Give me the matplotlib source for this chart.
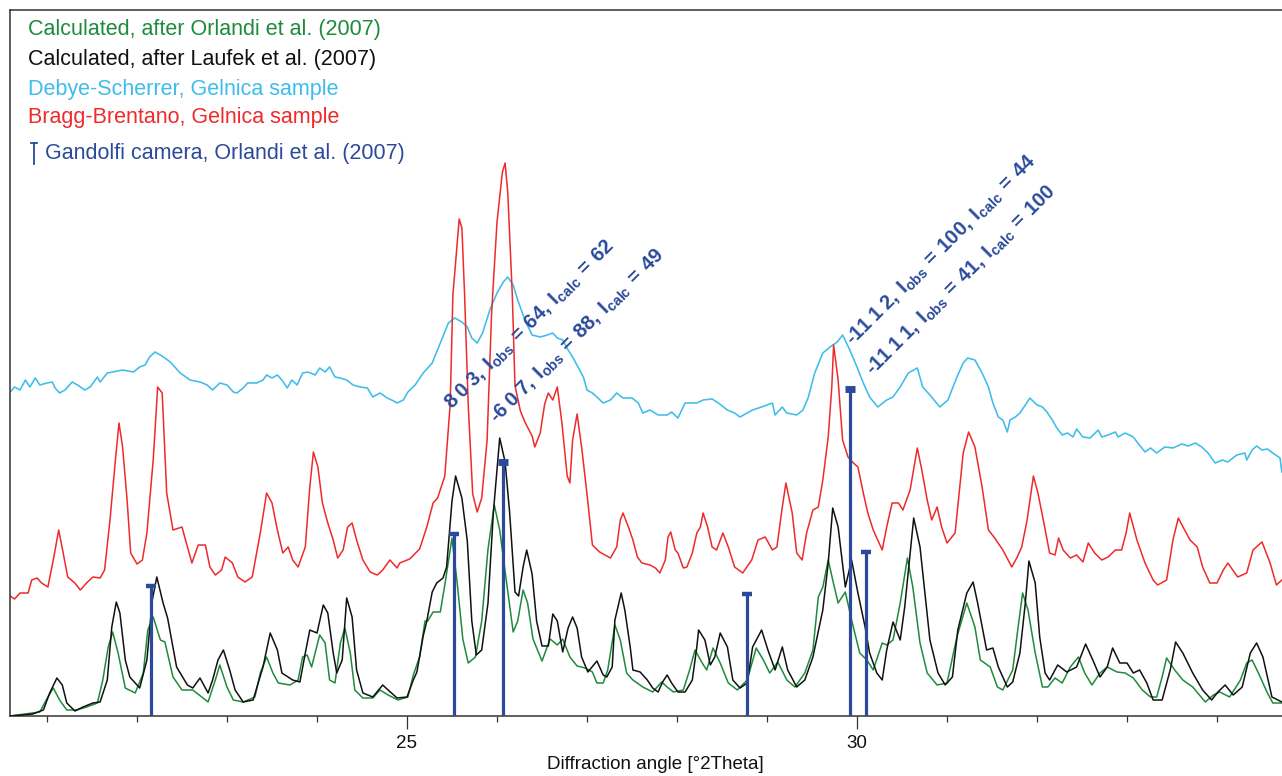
import matplotlib
matplotlib.use("Agg")
import matplotlib.pyplot as plt
from matplotlib.lines import Line2D

plt.rcParams['font.family'] = ['Liberation Sans', 'DejaVu Sans']
plt.rcParams['mathtext.fontset'] = 'custom'
plt.rcParams['mathtext.rm'] = 'Liberation Sans'
plt.rcParams['mathtext.bf'] = 'Liberation Sans:bold'
plt.rcParams['mathtext.it'] = 'Liberation Sans:italic'

# ---------------- data (2Theta in degrees, intensity in arbitrary units) ----------------
laufek_x = [20.59, 20.84, 20.96, 21.03, 21.11, 21.17, 21.22, 21.31, 21.40, 21.51, 21.59, 21.67, 21.72, 21.77, 21.81,
            21.87, 21.92, 22.03, 22.11, 22.17, 22.22, 22.29, 22.34, 22.44, 22.56, 22.62, 22.70, 22.79, 22.84, 22.90,
            22.96, 23.03, 23.09, 23.18, 23.29, 23.40, 23.48, 23.56, 23.61, 23.73, 23.81, 23.87, 23.92, 24.00, 24.07,
            24.12, 24.18, 24.22, 24.28, 24.33, 24.39, 24.44, 24.51, 24.62, 24.73, 24.79, 24.89, 25.00, 25.07, 25.11,
            25.18, 25.22, 25.28, 25.33, 25.40, 25.44, 25.50, 25.54, 25.61, 25.67, 25.72, 25.77, 25.83, 25.90, 25.96,
            26.03, 26.09, 26.14, 26.20, 26.24, 26.29, 26.33, 26.39, 26.44, 26.50, 26.57, 26.62, 26.67, 26.73, 26.79,
            26.84, 26.89, 26.94, 27.01, 27.11, 27.18, 27.22, 27.28, 27.31, 27.38, 27.42, 27.48, 27.51, 27.59, 27.67,
            27.73, 27.79, 27.84, 27.89, 27.94, 28.01, 28.09, 28.17, 28.22, 28.24, 28.31, 28.37, 28.42, 28.48, 28.56,
            28.62, 28.70, 28.78, 28.84, 28.94, 29.01, 29.09, 29.17, 29.23, 29.33, 29.42, 29.51, 29.62, 29.68, 29.73,
            29.79, 29.87, 29.94, 30.01, 30.09, 30.14, 30.22, 30.28, 30.33, 30.40, 30.48, 30.53, 30.59, 30.63, 30.70,
            30.81, 30.90, 30.98, 31.06, 31.12, 31.22, 31.29, 31.34, 31.44, 31.51, 31.57, 31.67, 31.73, 31.81, 31.87,
            31.91, 31.98, 32.03, 32.09, 32.14, 32.23, 32.33, 32.44, 32.54, 32.62, 32.70, 32.78, 32.84, 32.92, 33.00,
            33.07, 33.14, 33.22, 33.29, 33.39, 33.48, 33.54, 33.62, 33.73, 33.84, 33.94, 34.01, 34.09, 34.18, 34.28,
            34.37, 34.44, 34.51, 34.61, 34.72]
laufek_y = [0, 2, 6, 23, 38, 31, 13, 5, 9, 13, 14, 36, 89, 114, 103,
            56, 39, 28, 56, 116, 139, 113, 98, 49, 31, 28, 38, 23, 36, 56,
            66, 46, 26, 14, 16, 49, 83, 66, 43, 36, 34, 63, 86, 83, 111,
            103, 63, 43, 56, 118, 99, 46, 23, 19, 31, 26, 18, 19, 36, 44,
            80, 95, 124, 133, 138, 149, 215, 240, 218, 175, 95, 61, 66, 113, 204,
            278, 254, 204, 124, 120, 149, 166, 142, 95, 70, 70, 102, 95, 64, 88,
            99, 88, 59, 44, 55, 41, 39, 49, 96, 123, 106, 69, 46, 44, 36,
            28, 24, 34, 41, 33, 24, 24, 36, 69, 86, 76, 51, 59, 83, 69,
            36, 28, 33, 69, 86, 66, 46, 69, 46, 29, 36, 59, 106, 153, 208,
            189, 129, 156, 123, 89, 63, 43, 36, 66, 94, 76, 109, 163, 198, 169,
            76, 43, 31, 39, 86, 123, 134, 113, 66, 68, 49, 29, 34, 63, 113,
            155, 133, 79, 43, 36, 51, 44, 49, 72, 56, 39, 49, 68, 53, 53,
            43, 46, 33, 16, 16, 46, 74, 63, 43, 26, 16, 24, 31, 21, 29,
            63, 73, 59, 19, 14]

orlandi_x = [20.59, 20.92, 21.01, 21.07, 21.14, 21.22, 21.33, 21.44, 21.56, 21.62, 21.68, 21.73, 21.79, 21.87, 21.98,
             22.07, 22.12, 22.18, 22.26, 22.31, 22.40, 22.50, 22.62, 22.79, 22.87, 22.92, 23.00, 23.07, 23.18, 23.31,
             23.37, 23.44, 23.51, 23.57, 23.70, 23.79, 23.84, 23.89, 23.94, 24.03, 24.09, 24.14, 24.20, 24.26, 24.31,
             24.37, 24.42, 24.51, 24.62, 24.70, 24.79, 24.90, 25.01, 25.07, 25.14, 25.20, 25.23, 25.29, 25.37, 25.42,
             25.50, 25.56, 25.62, 25.68, 25.76, 25.83, 25.90, 25.97, 26.03, 26.11, 26.18, 26.23, 26.29, 26.34, 26.40,
             26.50, 26.59, 26.67, 26.73, 26.81, 26.89, 26.98, 27.06, 27.11, 27.18, 27.23, 27.31, 27.37, 27.44, 27.51,
             27.62, 27.73, 27.83, 27.89, 27.96, 28.07, 28.14, 28.20, 28.28, 28.33, 28.40, 28.48, 28.57, 28.67, 28.78,
             28.88, 28.96, 29.03, 29.12, 29.22, 29.31, 29.42, 29.51, 29.57, 29.62, 29.68, 29.73, 29.79, 29.87, 29.94,
             30.03, 30.11, 30.18, 30.28, 30.33, 30.40, 30.48, 30.56, 30.62, 30.70, 30.78, 30.89, 31.00, 31.11, 31.22,
             31.31, 31.37, 31.48, 31.56, 31.62, 31.73, 31.79, 31.84, 31.90, 31.98, 32.06, 32.12, 32.20, 32.28, 32.37,
             32.46, 32.53, 32.61, 32.70, 32.78, 32.89, 32.98, 33.07, 33.17, 33.26, 33.33, 33.39, 33.44, 33.53, 33.62,
             33.73, 33.87, 33.96, 34.03, 34.14, 34.26, 34.33, 34.39, 34.46, 34.56, 34.62, 34.72]
orlandi_y = [0, 4, 19, 28, 16, 6, 6, 9, 13, 36, 69, 84, 63, 28, 23,
             43, 86, 99, 76, 74, 39, 26, 26, 14, 36, 51, 29, 16, 14, 19,
             43, 59, 43, 33, 31, 36, 59, 61, 49, 81, 73, 36, 33, 73, 88,
             63, 26, 18, 18, 26, 21, 16, 19, 41, 59, 95, 95, 104, 104, 131,
             178, 131, 77, 53, 59, 95, 167, 211, 186, 131, 84, 95, 126, 113, 77,
             55, 77, 71, 77, 59, 50, 48, 44, 33, 33, 46, 91, 76, 43, 36,
             29, 24, 34, 29, 24, 26, 46, 66, 53, 46, 68, 53, 33, 26, 36,
             68, 56, 43, 54, 36, 29, 43, 66, 119, 129, 156, 136, 113, 124, 96,
             63, 56, 46, 73, 71, 76, 113, 158, 129, 73, 43, 31, 33, 79, 113,
             89, 56, 49, 29, 26, 46, 89, 123, 106, 63, 29, 29, 38, 33, 49,
             59, 43, 31, 43, 49, 44, 43, 38, 26, 19, 19, 39, 58, 46, 36,
             29, 14, 21, 24, 19, 36, 53, 56, 43, 23, 13, 13]

bragg_x = [20.59, 20.64, 20.70, 20.79, 20.83, 20.89, 20.94, 21.01, 21.07, 21.13, 21.18, 21.23, 21.31, 21.37, 21.44,
           21.51, 21.59, 21.64, 21.70, 21.76, 21.80, 21.84, 21.89, 21.93, 22.00, 22.06, 22.11, 22.18, 22.23, 22.28,
           22.33, 22.40, 22.50, 22.53, 22.61, 22.68, 22.76, 22.81, 22.87, 22.94, 22.98, 23.06, 23.12, 23.20, 23.28,
           23.37, 23.44, 23.50, 23.56, 23.62, 23.68, 23.73, 23.79, 23.87, 23.92, 23.96, 24.01, 24.06, 24.12, 24.18,
           24.23, 24.29, 24.34, 24.39, 24.44, 24.51, 24.59, 24.67, 24.73, 24.81, 24.89, 24.92, 25.03, 25.14, 25.22,
           25.29, 25.34, 25.42, 25.48, 25.51, 25.56, 25.58, 25.61, 25.64, 25.68, 25.73, 25.78, 25.83, 25.89, 25.94,
           26.00, 26.06, 26.09, 26.12, 26.17, 26.20, 26.26, 26.31, 26.39, 26.42, 26.48, 26.53, 26.57, 26.62, 26.67,
           26.72, 26.78, 26.81, 26.84, 26.89, 26.94, 27.00, 27.06, 27.14, 27.26, 27.33, 27.37, 27.40, 27.46, 27.51,
           27.56, 27.61, 27.70, 27.76, 27.81, 27.87, 27.90, 27.93, 27.98, 28.01, 28.07, 28.11, 28.17, 28.22, 28.26,
           28.29, 28.34, 28.39, 28.44, 28.51, 28.57, 28.64, 28.73, 28.83, 28.90, 28.98, 29.06, 29.11, 29.17, 29.21,
           29.28, 29.33, 29.39, 29.44, 29.51, 29.57, 29.62, 29.68, 29.72, 29.74, 29.79, 29.84, 29.90, 29.96, 30.01,
           30.07, 30.12, 30.18, 30.28, 30.33, 30.39, 30.46, 30.51, 30.59, 30.67, 30.72, 30.78, 30.83, 30.89, 30.94,
           31.00, 31.09, 31.18, 31.24, 31.31, 31.39, 31.46, 31.53, 31.62, 31.72, 31.78, 31.83, 31.89, 31.96, 32.01,
           32.07, 32.14, 32.20, 32.24, 32.29, 32.37, 32.44, 32.51, 32.57, 32.64, 32.72, 32.79, 32.87, 32.94, 32.99,
           33.03, 33.11, 33.20, 33.29, 33.34, 33.44, 33.51, 33.57, 33.64, 33.70, 33.78, 33.84, 33.92, 34.00, 34.07,
           34.12, 34.23, 34.33, 34.40, 34.50, 34.59, 34.66, 34.72]
bragg_y = [120, 117, 123, 123, 136, 138, 133, 129, 156, 186, 163, 139, 133, 126, 133,
           139, 138, 146, 196, 256, 293, 269, 216, 163, 152, 156, 183, 256, 329, 323,
           223, 186, 189, 179, 153, 171, 171, 149, 141, 146, 159, 153, 139, 134, 139,
           183, 223, 213, 186, 163, 169, 156, 149, 169, 229, 264, 249, 213, 193, 176,
           158, 166, 189, 193, 176, 156, 144, 141, 146, 156, 148, 153, 157, 167, 189,
           213, 218, 240, 312, 421, 475, 497, 488, 421, 312, 222, 204, 218, 276, 403,
           494, 544, 553, 523, 421, 330, 305, 294, 280, 269, 283, 312, 323, 316, 329,
           294, 240, 233, 276, 302, 269, 222, 171, 164, 158, 169, 196, 203, 189, 176,
           159, 153, 151, 148, 143, 156, 179, 184, 166, 163, 148, 149, 163, 183, 189,
           203, 189, 169, 166, 183, 169, 149, 143, 156, 176, 179, 166, 169, 209, 233,
           203, 163, 156, 183, 206, 209, 236, 279, 329, 371, 336, 276, 259, 253, 249,
           223, 203, 186, 166, 189, 213, 213, 206, 226, 268, 246, 216, 196, 209, 189,
           173, 183, 263, 284, 269, 229, 186, 178, 166, 149, 159, 169, 196, 240, 223,
           196, 163, 161, 178, 166, 158, 161, 154, 173, 163, 156, 159, 166, 166, 183,
           203, 176, 153, 136, 131, 136, 176, 198, 186, 176, 169, 149, 133, 133, 146,
           153, 139, 143, 166, 174, 153, 131, 136]

debye_x = [20.59, 20.64, 20.70, 20.76, 20.81, 20.87, 20.92, 21.00, 21.06, 21.09, 21.14, 21.20, 21.28, 21.34, 21.42,
           21.48, 21.56, 21.59, 21.67, 21.73, 21.84, 21.96, 22.03, 22.09, 22.14, 22.20, 22.26, 22.31, 22.37, 22.48,
           22.59, 22.70, 22.78, 22.84, 22.92, 23.00, 23.07, 23.11, 23.18, 23.23, 23.33, 23.40, 23.44, 23.50, 23.56,
           23.61, 23.67, 23.72, 23.78, 23.84, 23.90, 23.98, 24.03, 24.09, 24.14, 24.20, 24.26, 24.33, 24.40, 24.48,
           24.56, 24.62, 24.70, 24.78, 24.83, 24.89, 24.96, 25.01, 25.09, 25.18, 25.28, 25.37, 25.46, 25.53, 25.61,
           25.67, 25.72, 25.78, 25.84, 25.92, 26.00, 26.07, 26.12, 26.18, 26.23, 26.31, 26.39, 26.48, 26.56, 26.62,
           26.67, 26.73, 26.79, 26.84, 26.90, 26.96, 27.00, 27.06, 27.11, 27.18, 27.26, 27.33, 27.40, 27.50, 27.57,
           27.62, 27.70, 27.79, 27.89, 27.94, 28.01, 28.09, 28.22, 28.29, 28.39, 28.46, 28.56, 28.64, 28.70, 28.78,
           28.84, 28.94, 29.06, 29.09, 29.17, 29.22, 29.33, 29.40, 29.46, 29.53, 29.62, 29.70, 29.78, 29.84, 29.92,
           30.00, 30.07, 30.14, 30.23, 30.33, 30.40, 30.48, 30.57, 30.67, 30.73, 30.81, 30.92, 31.01, 31.11, 31.18,
           31.23, 31.31, 31.39, 31.46, 31.51, 31.57, 31.62, 31.67, 31.70, 31.76, 31.81, 31.87, 31.92, 32.00, 32.06,
           32.11, 32.17, 32.22, 32.28, 32.34, 32.40, 32.44, 32.51, 32.59, 32.68, 32.72, 32.79, 32.87, 32.90, 32.98,
           33.07, 33.12, 33.20, 33.26, 33.33, 33.42, 33.51, 33.61, 33.68, 33.76, 33.83, 33.90, 33.98, 34.06, 34.12,
           34.22, 34.31, 34.33, 34.39, 34.44, 34.50, 34.56, 34.62, 34.70, 34.72]
debye_y = [324, 329, 326, 336, 329, 338, 331, 333, 334, 328, 323, 326, 334, 331, 326,
           329, 339, 334, 343, 344, 346, 344, 349, 351, 359, 364, 361, 358, 354, 343,
           336, 334, 331, 326, 333, 331, 324, 323, 328, 333, 333, 336, 341, 338, 341,
           336, 328, 336, 331, 343, 344, 341, 348, 344, 349, 339, 338, 336, 331, 329,
           328, 319, 323, 318, 316, 313, 316, 324, 331, 343, 353, 373, 393, 398, 394,
           389, 378, 373, 383, 406, 423, 434, 439, 431, 416, 396, 381, 379, 381, 383,
           378, 376, 366, 359, 349, 339, 326, 323, 319, 313, 316, 323, 318, 318, 313,
           303, 306, 301, 301, 304, 298, 313, 313, 316, 317, 313, 306, 303, 299, 303,
           306, 309, 313, 301, 309, 303, 301, 306, 319, 343, 363, 369, 374, 381, 366,
           349, 333, 319, 309, 316, 319, 329, 343, 348, 329, 321, 309, 316, 339, 353,
           358, 356, 343, 329, 313, 299, 296, 284, 296, 299, 303, 311, 318, 311, 309,
           304, 296, 288, 281, 283, 279, 287, 279, 278, 286, 279, 281, 284, 279, 283,
           279, 273, 264, 268, 263, 269, 268, 272, 270, 273, 269, 263, 253, 256, 254,
           261, 263, 256, 266, 270, 266, 267, 263, 258, 244]

gandolfi_x = [22.16, 25.52, 26.07, 28.78, 29.92, 30.10]
gandolfi_y = [130, 182, 254, 122, 327, 164]
gandolfi_strong = [False, False, True, False, True, False]

annot_x = [25.50, 26.00, 29.96, 30.18]
annot_y = [306, 292, 370, 340]
annot_labels = [r'$\mathbf{8\;0\;3,\:I_{obs}\:{=}\:64,\:I_{calc}\:{=}\:62}$',
                r'$\mathbf{‐6\;0\;7,\:I_{obs}\:{=}\:88,\:I_{calc}\:{=}\:49}$',
                r'$\mathbf{‐11\;1\;2,\:I_{obs}\:{=}\:100,\:I_{calc}\:{=}\:44}$',
                r'$\mathbf{‐11\;1\;1,\:I_{obs}\:{=}\:41,\:I_{calc}\:{=}\:100}$']

legend_labels = ['Calculated, after Orlandi et al. (2007)',
                 'Calculated, after Laufek et al. (2007)',
                 'Debye-Scherrer, Gelnica sample',
                 'Bragg-Brentano, Gelnica sample',
                 'Gandolfi camera, Orlandi et al. (2007)']

major_ticks = [25, 30]
minor_ticks = [21, 22, 23, 24, 26, 27, 28, 29, 31, 32, 33, 34]

# ---------------- styling ----------------
C_GREEN = '#1E8B3C'
C_BLACK = '#111111'
C_LBLUE = '#3EBDEB'
C_RED = '#EE2A2A'
C_DBLUE = '#2B4A9B'
C_AXIS = '#333333'

W, H = 1282, 776
fig = plt.figure(figsize=(W / 100, H / 100), dpi=100)
ax = fig.add_axes([10 / W, 60 / H, 1272 / W, 706 / H])

ax.plot(debye_x, debye_y, color=C_LBLUE, lw=1.15, zorder=2)
ax.plot(bragg_x, bragg_y, color=C_RED, lw=1.1, zorder=2)
ax.plot(orlandi_x, orlandi_y, color=C_GREEN, lw=1.1, zorder=3)
ax.plot(laufek_x, laufek_y, color=C_BLACK, lw=1.1, zorder=4)

ax.vlines(gandolfi_x, 0, gandolfi_y, color=C_DBLUE, lw=2.3, zorder=5)
for gx, gy, strong in zip(gandolfi_x, gandolfi_y, gandolfi_strong):
    ax.plot([gx], [gy], marker='_', ms=7.5, mew=5.0 if strong else 3.2,
            color=C_DBLUE, zorder=6, clip_on=False)

for tx, ty, lab in zip(annot_x, annot_y, annot_labels):
    ax.text(tx, ty, lab, rotation=45, rotation_mode='anchor', ha='left', va='baseline',
            fontsize=14.5, color=C_DBLUE, zorder=7)

ax.set_xlim(20.589, 34.722)
ax.set_ylim(0, 706)
ax.set_yticks([])
ax.set_xticks(major_ticks)
ax.set_xticklabels([str(t) for t in major_ticks])
ax.set_xticks(minor_ticks, minor=True)
ax.tick_params(axis='x', which='major', direction='out', length=9, width=0.9,
               color=C_AXIS, labelsize=13.5, labelcolor='#111111', pad=5)
ax.tick_params(axis='x', which='minor', direction='out', length=4.5, width=0.9, color=C_AXIS)
for side in ['left', 'bottom', 'top']:
    ax.spines[side].set_color(C_AXIS)
    ax.spines[side].set_linewidth(1.1)
ax.spines['right'].set_visible(False)

ax.set_xlabel('Diffraction angle [°2Theta]', fontsize=13.5, color='#111111')
ax.xaxis.set_label_coords(0.507, -0.057)

# legend (text block in the upper-left corner)
leg_colors = [C_GREEN, C_BLACK, C_LBLUE, C_RED, C_DBLUE]
leg_y = [30, 60, 89, 118, 153]
leg_x = [28, 28, 28, 28, 45]
for lab, col, yy, xx in zip(legend_labels, leg_colors, leg_y, leg_x):
    fig.text(xx / W, 1 - yy / H, lab, color=col, fontsize=15.5, ha='left', va='center')
fig.add_artist(Line2D([34 / W, 34 / W], [1 - 143 / H, 1 - 164 / H], color=C_DBLUE, lw=1.3))
fig.add_artist(Line2D([31 / W, 37 / W], [1 - 143 / H, 1 - 143 / H], color=C_DBLUE, lw=1.3))

fig.savefig('out.png', dpi=100)
